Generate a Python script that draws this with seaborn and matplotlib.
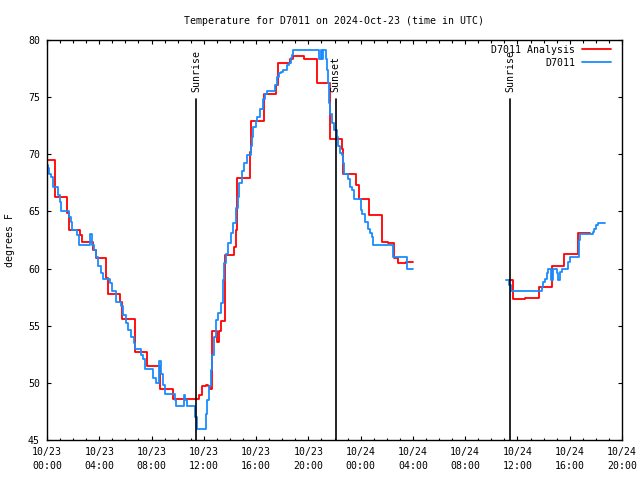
import matplotlib
matplotlib.use('Agg')
import matplotlib.pyplot as plt
import matplotlib.transforms as mtransforms
from matplotlib.lines import Line2D
import seaborn as sns
import pandas as pd

# hours since 2024-10-23 00:00 UTC, temperatures in degrees F
analysis_hours_1 = [0.0, 0.59, 1.51, 1.68, 2.50, 2.70, 3.52, 3.73, 4.54, 4.67, 5.56, 5.76,
                    6.71, 7.63, 8.65, 9.66, 11.6, 11.84, 12.17, 12.34, 12.47, 12.6, 13.0,
                    13.16, 13.31, 13.62, 14.33, 14.46, 14.56, 15.53, 15.62, 16.6, 17.52,
                    17.7, 18.59, 18.85, 19.69, 20.68, 21.65, 22.57, 22.67, 23.64, 23.9,
                    24.66, 25.63, 26.09, 26.55, 26.88, 27.5, 28.03]
analysis_temps_1 = [69.5, 66.3, 64.9, 63.4, 62.9, 62.3, 61.6, 60.9, 59.2, 57.8, 57.1, 55.6,
                    52.7, 51.5, 49.5, 48.6, 48.9, 49.7, 49.8, 49.7, 49.5, 54.5, 53.6,
                    54.5, 55.4, 61.2, 61.9, 63.4, 67.9, 70.2, 72.9, 75.3, 76.1,
                    78.0, 78.3, 78.6, 78.3, 76.2, 71.3, 70.5, 68.3, 67.3, 66.1,
                    64.7, 62.3, 62.2, 60.9, 60.5, 60.6, 60.6]
analysis_hours_2 = [35.37, 35.63, 36.57, 37.67, 38.66, 39.58, 40.65, 41.55]
analysis_temps_2 = [59.0, 57.3, 57.4, 58.4, 60.2, 61.3, 63.1, 63.1]

obs_hours_1 = [0.0, 0.05, 0.15, 0.28, 0.48, 0.84, 0.99, 1.09, 1.68, 1.81, 1.94, 2.32, 2.45,
               3.29, 3.42, 3.60, 3.73, 3.90, 4.11, 4.31, 4.82, 5.00, 5.26, 5.64, 5.81,
               6.02, 6.20, 6.45, 6.66, 6.73, 7.17, 7.32, 7.50, 8.13, 8.34, 8.59, 8.70,
               8.85, 9.03, 9.79, 9.87, 10.50, 10.58, 10.69, 11.35, 11.50, 12.17, 12.27,
               12.42, 12.55, 12.62, 12.78, 12.93, 13.11, 13.29, 13.44, 13.54, 13.70,
               13.87, 14.08, 14.25, 14.46, 14.59, 14.71, 14.90, 15.07, 15.28, 15.59,
               15.66, 15.78, 15.99, 16.09, 16.30, 16.50, 16.68, 16.81, 17.44, 17.62,
               17.77, 17.88, 18.08, 18.34, 18.54, 18.65, 18.72, 18.85, 20.83, 20.94,
               21.04, 21.09, 21.35, 21.45, 21.52, 21.60, 21.68, 21.78, 21.93, 22.17,
               22.29, 22.42, 22.55, 22.62, 22.72, 23.05, 23.18, 23.36, 23.49, 24.00,
               24.12, 24.33, 24.58, 24.71, 24.84, 24.96, 26.45, 27.52, 28.03]
obs_temps_1 = [69.1, 68.8, 68.3, 68.0, 67.1, 66.4, 65.8, 65.0, 64.5, 64.1, 63.4, 62.9, 62.1,
               63.0, 62.1, 61.6, 61.0, 60.2, 59.6, 59.1, 58.7, 58.0, 57.1, 56.7, 55.9,
               55.2, 54.6, 54.0, 53.5, 53.0, 52.4, 52.1, 51.2, 50.4, 50.0, 51.9, 50.8,
               49.8, 49.0, 48.5, 48.0, 48.9, 48.5, 48.0, 47.0, 46.0, 47.3, 48.5,
               49.7, 51.1, 52.4, 54.0, 55.5, 56.1, 57.0, 59.0, 60.5, 61.3,
               62.2, 63.1, 64.0, 65.3, 66.3, 67.5, 68.5, 69.2, 69.9, 70.7,
               71.5, 72.4, 72.9, 73.3, 74.0, 74.8, 75.3, 75.5, 76.1, 76.8,
               77.1, 77.2, 77.4, 77.8, 78.0, 78.4, 78.7, 79.1, 78.3, 79.1,
               78.3, 79.1, 78.3, 77.4, 76.2, 74.5, 73.5, 72.7, 72.1, 71.5,
               70.7, 70.1, 69.9, 69.2, 68.3, 67.8, 67.1, 66.9, 66.1, 65.1,
               64.8, 64.1, 63.5, 63.1, 62.8, 62.1, 61.0, 60.0, 60.0]
obs_hours_2 = [35.12, 35.37, 35.48, 37.91, 37.97, 38.10, 38.23, 38.31, 38.56, 38.74, 39.04,
               39.12, 39.25, 39.38, 39.89, 40.02, 40.70, 40.78, 41.75, 41.87, 42.00,
               42.14, 42.69]
obs_temps_2 = [59.0, 58.6, 58.0, 58.4, 58.8, 59.1, 59.6, 60.0, 59.0, 60.0, 59.6,
               59.0, 59.7, 60.0, 60.6, 61.0, 62.5, 63.0, 63.2, 63.5, 63.8,
               64.0, 64.0]

sunrise_hours = [11.42, 35.45]
sunset_hours = [22.09]

tick_hours = list(range(0, 45, 4))
tick_labels = ['10/23\n00:00', '10/23\n04:00', '10/23\n08:00', '10/23\n12:00',
               '10/23\n16:00', '10/23\n20:00', '10/24\n00:00', '10/24\n04:00',
               '10/24\n08:00', '10/24\n12:00', '10/24\n16:00', '10/24\n20:00']


def segments(*parts):
    frames = []
    for i, (h, t) in enumerate(parts):
        frames.append(pd.DataFrame({'hour': h, 'temp': t, 'seg': i}))
    return pd.concat(frames, ignore_index=True)


analysis = segments((analysis_hours_1, analysis_temps_1), (analysis_hours_2, analysis_temps_2))
obs = segments((obs_hours_1, obs_temps_1), (obs_hours_2, obs_temps_2))

sns.set_theme(style='ticks')
plt.rcParams['font.family'] = ['DejaVu Sans Mono']
plt.rcParams.update({
    'axes.edgecolor': 'black', 'axes.linewidth': 1.0, 'text.color': 'black',
    'axes.labelcolor': 'black', 'xtick.color': 'black', 'ytick.color': 'black',
})

fs = 7.15
red = '#ff0000'
blue = '#1a8cff'

fig = plt.figure(figsize=(6.4, 4.8), dpi=100)
ax = fig.add_axes([47 / 640, 40 / 480, 575 / 640, 400 / 480])

sns.lineplot(data=analysis, x='hour', y='temp', units='seg', estimator=None, sort=False,
             color=red, lw=1.3, drawstyle='steps-post', legend=False, ax=ax)
sns.lineplot(data=obs, x='hour', y='temp', units='seg', estimator=None, sort=False,
             color=blue, lw=1.3, drawstyle='steps-post', legend=False, ax=ax)

# sunrise / sunset markers
trans = mtransforms.blended_transform_factory(ax.transData, ax.transAxes)
for h, name in [(sunrise_hours[0], 'Sunrise'), (sunset_hours[0], 'Sunset'),
                (sunrise_hours[1], 'Sunrise')]:
    ax.axvline(h, ymin=0, ymax=0.8525, color='black', lw=1.2)
    ax.text(h, 0.87, name, transform=trans, rotation=90, ha='center', va='bottom',
            fontsize=fs)

ax.set_xlim(0, 44)
ax.set_ylim(45, 80)
ax.set_xticks(tick_hours)
ax.set_xticklabels(tick_labels, linespacing=1.45)
ax.set_xticks(range(0, 45), minor=True)
ax.set_yticks(range(45, 81, 5))
ax.tick_params(which='major', direction='in', top=True, right=True, length=3.2,
               width=0.8, labelsize=fs, pad=5)
ax.tick_params(which='minor', direction='in', top=True, right=False, length=1.8, width=0.8)
ax.tick_params(axis='y', which='minor', left=False, right=False)

ax.set_xlabel('')
ax.set_ylabel('degrees F', fontsize=fs)
ax.yaxis.set_label_coords(-0.056, 0.5)
ax.set_title('Temperature for D7011 on 2024-Oct-23 (time in UTC)', fontsize=fs, pad=11.5)

handles = [Line2D([], [], color=red, lw=1.3), Line2D([], [], color=blue, lw=1.3)]
ax.legend(handles, ['D7011 Analysis', 'D7011'], loc='upper right',
          bbox_to_anchor=(1 - 6 / 575, 1), frameon=False,
          markerfirst=False, fontsize=fs, handlelength=2.9, handletextpad=0.7,
          labelspacing=0.3, borderaxespad=0.2, borderpad=0.3)

fig.savefig('out.png', dpi=100)
